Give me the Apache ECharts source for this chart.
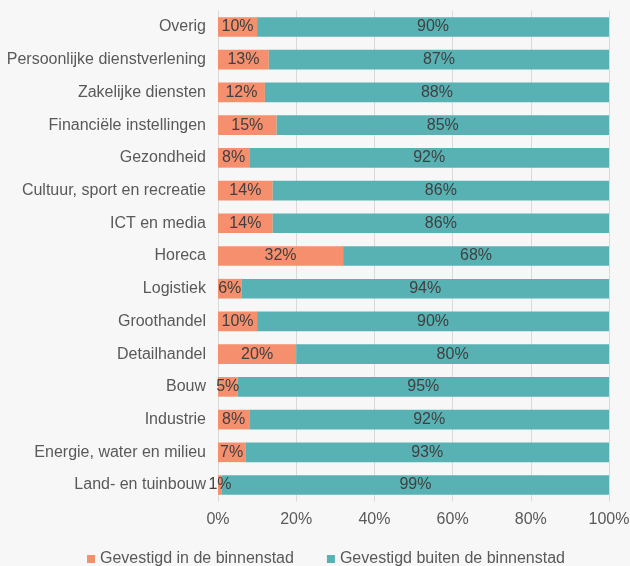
<!DOCTYPE html>
<html><head><meta charset="utf-8">
<script src="https://cdn.jsdelivr.net/npm/echarts@6/dist/echarts.min.js"></script>
<style>html,body{margin:0;padding:0;background:#f7f7f7;}#c{width:630px;height:566px;}</style>
</head><body><div id="c"></div>
<script>
const categories = ["Overig","Persoonlijke dienstverlening","Zakelijke diensten","Financiële instellingen","Gezondheid","Cultuur, sport en recreatie","ICT en media","Horeca","Logistiek","Groothandel","Detailhandel","Bouw","Industrie","Energie, water en milieu","Land- en tuinbouw"];
const binnen = [10,13,12,15,8,14,14,32,6,10,20,5,8,7,1];
const buiten = [90,87,88,85,92,86,86,68,94,90,80,95,92,93,99];
const seriesNames = ["Gevestigd in de binnenstad","Gevestigd buiten de binnenstad"];
const xTicks = [0,20,40,60,80,100];

const FONT = 'Liberation Sans, Arial, sans-serif';
const chart = echarts.init(document.getElementById('c'));
const lbl = {show:true, position:'inside', color:'#404040', fontSize:16, fontFamily:FONT, formatter: p => p.value + '%'};
chart.setOption({
  backgroundColor:'#f7f7f7',
  animation:false,
  grid:{left:218, right:21, top:10.6, bottom:64.6, containLabel:false, outerBoundsMode:'none'},
  legend:{top:546, left:82, itemWidth:8, itemHeight:8, itemGap:33, icon:'rect',
    textStyle:{color:'#595959', fontSize:16, fontFamily:FONT}},
  xAxis:{type:'value', min:0, max:100, interval:20,
    axisLabel:{formatter: v => xTicks.includes(v) ? v + '%' : '', color:'#595959', fontSize:16, margin:10, fontFamily:FONT},
    axisLine:{show:false}, axisTick:{show:false},
    splitLine:{lineStyle:{color:'#d9d9d9', width:1}}},
  yAxis:{type:'category', data:categories, inverse:true,
    axisLine:{show:true, lineStyle:{color:'#d9d9d9'}}, axisTick:{show:false},
    axisLabel:{color:'#595959', fontSize:16, margin:12, fontFamily:FONT}},
  series:[
    {name:seriesNames[0], type:'bar', stack:'t', data:binnen, barWidth:'60%', itemStyle:{color:'#f68f6d'}, label:lbl},
    {name:seriesNames[1], type:'bar', stack:'t', data:buiten, barWidth:'60%', itemStyle:{color:'#58b2b4'}, label:lbl}
  ]
});
</script></body></html>
